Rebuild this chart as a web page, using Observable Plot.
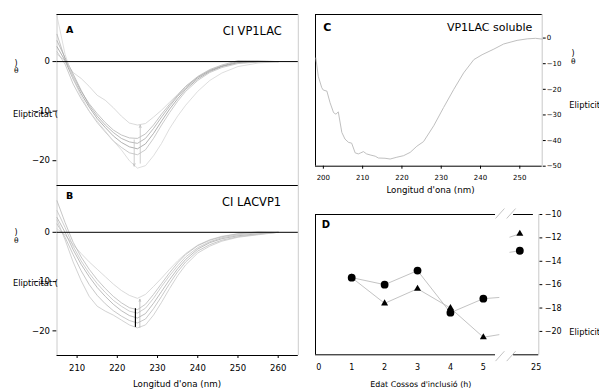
<!DOCTYPE html>
<html><head><meta charset="utf-8">
<script src="https://cdn.jsdelivr.net/npm/d3@7"></script>
<script src="https://cdn.jsdelivr.net/npm/@observablehq/plot@0.6"></script>
<style>
body{margin:0;background:#fff}
#root{position:relative;width:599px;height:390px;overflow:hidden;background:#fff;font-family:"DejaVu Sans",sans-serif}
#root svg{position:absolute;overflow:visible}
</style></head><body><div id="root"></div>
<script>
// ---------- Panels A & B: wavelength grid (nm) and CD curves ----------
const wl = [205,207,209,211,213,215,217,219,221,223,225,227,229,231,233,235,237,240,243,246,250,255,260];
const A1 = [1.5,0.2,-2.2,-3.4,-5.0,-6.8,-7.8,-9.3,-11.0,-12.4,-12.8,-12.5,-11.2,-9.8,-8.2,-6.6,-5.0,-3.2,-1.8,-0.9,-0.3,0.0,0];
const A2 = [5.5,0.5,-3.0,-6.0,-8.5,-10.5,-12.3,-13.8,-14.8,-15.4,-15.5,-14.6,-12.8,-10.6,-8.6,-6.8,-5.0,-3.0,-1.6,-0.7,0.2,0.1,0];
const A3 = [4.2,0.8,-2.5,-5.8,-8.8,-11.0,-12.8,-14.3,-15.5,-16.2,-16.5,-15.5,-13.5,-11.2,-9.0,-7.0,-5.3,-3.2,-1.8,-0.9,0.0,0.1,0];
const A4 = [3.0,0.2,-3.5,-6.5,-9.2,-11.5,-13.3,-15.0,-16.3,-17.2,-17.6,-16.6,-14.5,-12.0,-9.6,-7.5,-5.6,-3.5,-2.0,-1.0,-0.2,0.0,0];
const A5 = [2.0,-0.5,-4.5,-7.5,-10.0,-12.3,-14.2,-16.0,-17.3,-18.4,-18.8,-17.8,-15.5,-12.8,-10.3,-8.0,-6.0,-3.8,-2.2,-1.2,-0.4,-0.1,0];
const A6 = [9.2,1.5,-3.5,-7.0,-10.0,-12.0,-14.0,-16.0,-17.8,-20.0,-21.5,-21.0,-19.0,-16.5,-13.5,-11.0,-8.8,-6.0,-3.8,-2.3,-1.0,-0.3,0];
const B1 = [0.7,-0.5,-2.5,-4.3,-6.0,-7.5,-9.0,-10.5,-11.8,-12.8,-13.4,-12.6,-11.0,-9.3,-7.5,-5.8,-4.3,-2.6,-1.5,-0.8,-0.3,0.0,0];
const B2 = [6.4,2.0,-2.0,-5.0,-7.5,-9.6,-11.4,-13.0,-14.3,-15.3,-15.7,-14.6,-12.6,-10.4,-8.2,-6.2,-4.5,-2.7,-1.6,-0.9,-0.3,0.1,0];
const B3 = [4.4,1.0,-2.8,-5.8,-8.3,-10.4,-12.2,-13.8,-15.0,-16.0,-16.4,-15.4,-13.4,-11.0,-8.8,-6.8,-5.0,-3.1,-1.9,-1.1,-0.5,-0.1,0];
const B4 = [3.0,0.0,-3.5,-6.5,-9.0,-11.2,-13.0,-14.6,-15.9,-16.9,-17.4,-16.5,-14.4,-12.0,-9.6,-7.4,-5.5,-3.4,-2.1,-1.3,-0.7,-0.3,0];
const B5 = [1.7,-1.0,-4.5,-7.8,-10.6,-12.8,-14.5,-15.9,-17.0,-17.9,-18.4,-17.6,-15.5,-13.0,-10.4,-8.0,-6.0,-3.8,-2.5,-1.6,-0.9,-0.4,0];
const B6 = [2.5,-1.5,-6.0,-9.8,-13.0,-15.0,-16.0,-16.8,-17.8,-18.8,-19.4,-18.8,-16.8,-14.2,-11.4,-8.8,-6.6,-4.2,-2.8,-1.8,-1.0,-0.5,0];
const arrowsA = [{x1:224.2,y1:-15.8,x2:224.2,y2:-21.1},{x1:225.7,y1:-20.5,x2:225.7,y2:-12.8}];
const arrowsB = [{x1:225.6,y1:-19.3,x2:225.6,y2:-13.6}];
const markB = [{x:224.5,y1:-15.5,y2:-19.3}];
const ticksAB_y = [-20,-10,0];
const ticksB_x = [210,220,230,240,250,260];

// ---------- Panel C: soluble VP1LAC ----------
const wlC = [198.1,198.7,199.6,200,200.9,201.7,202.6,203.2,203.8,204.7,205.5,206.4,207.2,208.1,208.9,209.5,210.2,211,211.9,213.2,214,215.7,217,218.7,220.4,222.1,223.8,225.5,228.1,230.6,233.2,235.7,238.3,240.4,243.4,245.9,249.3,251.9,254,255.7];
const valC = [-7.8,-14.9,-19.4,-20.3,-20.7,-25.2,-29.1,-29.7,-28.8,-36.8,-39.4,-40.7,-41,-44.8,-45.2,-44.8,-44.3,-45.2,-45.6,-46.1,-46.8,-46.9,-47.2,-46.5,-45.9,-44.6,-42.2,-40.4,-34.2,-27.1,-20,-13.6,-8.4,-6.5,-4.3,-2.3,-0.9,-0.3,-0.1,-0.4];
const ticksC_x = [200,210,220,230,240,250];
const ticksC_y = [-50,-40,-30,-20,-10,0];

// ---------- Panel D: ellipticity vs inclusion-body age ----------
const hours = [1,2,3,4,5,24];
const circles = [-15.4,-16.0,-14.8,-18.4,-17.2,-13.1];
const triangles = [-15.4,-17.6,-16.35,-18.0,-20.5,-11.65];
const ticksD_x1 = [0,1,2,3,4,5];
const ticksD_x2 = [25];
const ticksD_y = [-20,-18,-16,-14,-12,-10];
const breakMarks = [
  {x1:5.37,y1:-10.34,x2:5.64,y2:-9.49},{x1:5.71,y1:-10.34,x2:5.98,y2:-9.49},
  {x1:5.37,y1:-22.54,x2:5.64,y2:-21.69},{x1:5.71,y1:-22.54,x2:5.98,y2:-21.69}
];

const root = document.getElementById("root");
function place(el, left, top){ el.style.left = left+"px"; el.style.top = top+"px"; root.appendChild(el); }
const baseStyle = {fontFamily:"DejaVu Sans", fontSize:"8.5px", color:"#000", background:"transparent", overflow:"visible"};
const rows = s => wl.map((w,i)=>({w, v:s[i]}));
const fmtInt = d3.format("d");

// ----- A -----
const xDomAB = [205,265], yDomAB = [-25,9.5];
const colA = ["#d0d0d0","#b4b4b4","#a8a8a8","#9c9c9c","#bebebe","#d6d6d6"];
const plotA = Plot.plot({
  width:300, height:185, marginLeft:56.5, marginRight:2.2, marginTop:14, marginBottom:0,
  x:{domain:xDomAB, axis:null},
  y:{domain:yDomAB, ticks:ticksAB_y, tickSize:4, tickPadding:3, label:null},
  style: baseStyle,
  marks:[
    Plot.ruleX(xDomAB, {stroke:"#cccccc"}),
    Plot.ruleY([yDomAB[1]], {stroke:"#000"}),
    ...[A1,A2,A3,A4,A5,A6].map((s,k)=>Plot.line(rows(s),{x:"w",y:"v",stroke:colA[k],strokeWidth:0.8})),
    Plot.arrow(arrowsA,{x1:"x1",y1:"y1",x2:"x2",y2:"y2",stroke:"#c0c0c0",strokeWidth:0.8,headLength:5,headAngle:40}),
    Plot.ruleY([0], {stroke:"#000"})
  ]
});
place(plotA, 0, 0);

// ----- B -----
const colB = ["#d0d0d0","#b8b8b8","#c2c2c2","#acacac","#bababa","#c6c6c6"];
const plotB = Plot.plot({
  width:300, height:219, marginLeft:56.5, marginRight:2.2, marginTop:14, marginBottom:35,
  x:{domain:xDomAB, ticks:ticksB_x, tickSize:3, tickPadding:6.5, label:null},
  y:{domain:yDomAB, ticks:ticksAB_y, tickSize:4, tickPadding:3, label:null},
  style: baseStyle,
  marks:[
    Plot.ruleX(xDomAB, {stroke:"#cccccc"}),
    Plot.ruleY([yDomAB[1]], {stroke:"#000"}),
    Plot.ruleY([yDomAB[0]], {stroke:"#000"}),
    ...[B1,B2,B3,B4,B5,B6].map((s,k)=>Plot.line(rows(s),{x:"w",y:"v",stroke:colB[k],strokeWidth:0.8})),
    Plot.arrow(arrowsB,{x1:"x1",y1:"y1",x2:"x2",y2:"y2",stroke:"#b8b8b8",strokeWidth:0.8,headLength:4,headAngle:40}),
    Plot.ruleX(markB,{x:"x",y1:"y1",y2:"y2",stroke:"#000",strokeWidth:1.2}),
    Plot.ruleY([0], {stroke:"#000"})
  ]
});
place(plotB, 0, 171);

// ----- C -----
const xDomC = [198,255.7], yDomC = [-50,9.2];
const plotC = Plot.plot({
  width:299, height:190, marginLeft:15, marginRight:57.3, marginTop:14, marginBottom:24.3,
  x:{domain:xDomC, ticks:ticksC_x, tickSize:3, tickPadding:5.5, label:null},
  y:{domain:yDomC, ticks:ticksC_y, axis:"right", tickSize:3, tickPadding:1.5, label:null},
  style: {...baseStyle, fontSize:"7px"},
  marks:[
    Plot.ruleX([xDomC[1]], {stroke:"#c8c8c8"}),
    Plot.ruleX([xDomC[0]], {stroke:"#000"}),
    Plot.ruleY(yDomC, {stroke:"#000"}),
    Plot.line(wlC.map((w,i)=>({w, v:valC[i]})), {x:"w", y:"v", stroke:"#b8b8b8", strokeWidth:0.9})
  ]
});
place(plotC, 300, 0);

// ----- D (broken x axis: two panels) -----
const yDomD = [-22,-10];
const rowsD = hours.map((h,i)=>({h, c:circles[i], t:triangles[i]}));
const xDomD1 = [-0.1,5.5], xDomD2 = [23.4,25.16];
function dMarks(){
  return [
    Plot.line(rowsD,{x:"h",y:"c",stroke:"#bcbcbc",strokeWidth:0.9,clip:true}),
    Plot.line(rowsD,{x:"h",y:"t",stroke:"#bcbcbc",strokeWidth:0.9,clip:true}),
    Plot.dot(rowsD,{x:"h",y:"t",symbol:"triangle",r:2.6,fill:"#000",clip:true}),
    Plot.dot(rowsD,{x:"h",y:"c",r:3.9,fill:"#000",clip:true})
  ];
}
const plotD1 = Plot.plot({
  width:240, height:200, marginLeft:15, marginRight:40.7, marginTop:24, marginBottom:35.7,
  x:{domain:xDomD1, ticks:ticksD_x1, tickFormat:fmtInt, tickSize:0, tickPadding:9.6, label:null},
  y:{domain:yDomD, axis:null},
  style: {...baseStyle, fontSize:"8px"},
  marks:[
    Plot.ruleX([xDomD1[0]], {stroke:"#000"}),
    Plot.ruleY(yDomD, {x1:xDomD1[0], x2:5.37, stroke:"#000"}),
    Plot.link(breakMarks,{x1:"x1",y1:"y1",x2:"x2",y2:"y2",stroke:"#bcbcbc",strokeWidth:0.9}),
    ...dMarks()
  ]
});
place(plotD1, 300, 190);
const plotD2 = Plot.plot({
  width:99, height:200, marginLeft:9.5, marginRight:60.7, marginTop:24, marginBottom:35.7,
  x:{domain:xDomD2, ticks:ticksD_x2, tickFormat:fmtInt, tickSize:0, tickPadding:9.6, label:null},
  y:{domain:yDomD, ticks:ticksD_y, axis:"right", tickSize:3, tickPadding:3, label:null},
  style: {...baseStyle, fontSize:"8px"},
  marks:[
    Plot.ruleX([xDomD2[1]], {stroke:"#c8c8c8"}),
    Plot.ruleY([yDomD[1]], {x1:23.62, x2:24.83, stroke:"#000"}),
    Plot.ruleY([yDomD[0]], {x1:23.62, x2:xDomD2[1], stroke:"#000"}),
    ...dMarks()
  ]
});
place(plotD2, 500, 190);

// ----- free text (titles, panel letters, axis titles) -----
const texts = [
  {t:"A", x:66, y:32.7, s:9.5, w:"bold"},
  {t:"CI VP1LAC", x:281.7, y:35, s:11.4, a:"end"},
  {t:"B", x:66, y:199.3, s:9.5, w:"bold"},
  {t:"CI LACVP1", x:281, y:206, s:11.4, a:"end"},
  {t:"C", x:323.3, y:30.7, s:11, w:"bold"},
  {t:"VP1LAC soluble", x:532.3, y:31, s:11, a:"end"},
  {t:"D", x:321.7, y:228.3, s:10, w:"bold"},
  {t:")", x:14.5, y:66, s:8},
  {t:"θ", x:14, y:73.3, s:7.5},
  {t:"Elipticitat (", x:13, y:117, s:8.3},
  {t:")", x:14.5, y:234.5, s:8},
  {t:"θ", x:14, y:243, s:7.5},
  {t:"Elipticitat (", x:13, y:286, s:8.3},
  {t:")", x:571.5, y:56, s:8},
  {t:"θ", x:571, y:64, s:7.5},
  {t:"Elipticitat (", x:569.3, y:108.3, s:8.3},
  {t:"Elipticitat (", x:569.3, y:335, s:8.3},
  {t:"Longitud d'ona (nm)", x:177, y:386.5, s:8.7, a:"middle"},
  {t:"Longitud d'ona (nm)", x:430.5, y:192.5, s:8.7, a:"middle"},
  {t:"Edat Cossos d'inclusió (h)", x:420.8, y:387, s:7.9, a:"middle"}
];
const over = d3.create("svg").attr("width",599).attr("height",390)
  .style("left","0px").style("top","0px").style("pointer-events","none");
over.selectAll("text").data(texts).join("text")
  .attr("x",d=>d.x).attr("y",d=>d.y)
  .attr("text-anchor",d=>d.a||"start")
  .attr("font-family","DejaVu Sans").attr("font-size",d=>d.s+"px")
  .attr("font-weight",d=>d.w||"normal").attr("fill","#000")
  .text(d=>d.t);
root.appendChild(over.node());
</script></body></html>
